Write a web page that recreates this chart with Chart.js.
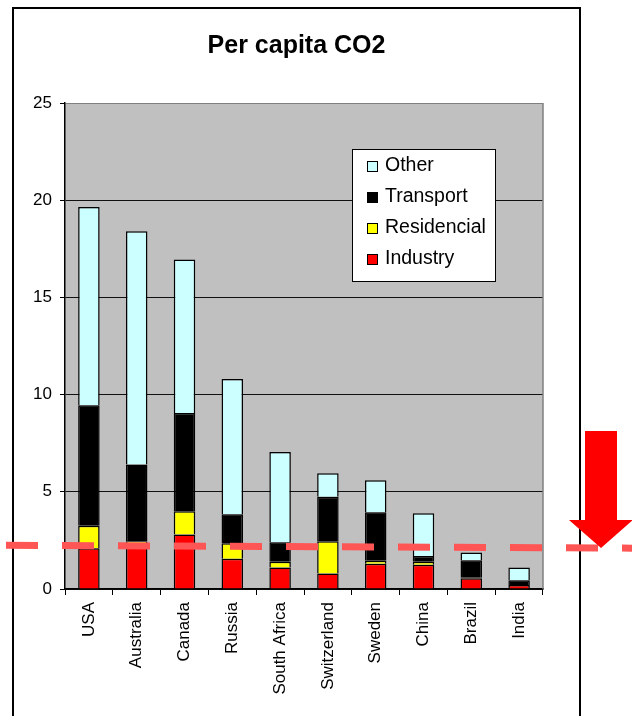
<!DOCTYPE html>
<html>
<head>
<meta charset="utf-8">
<script src="https://cdn.jsdelivr.net/npm/chart.js@4"></script>
<style>
  html, body { margin: 0; padding: 0; background: #fff; }
  #wrap { width: 632px; height: 716px; }
</style>
</head>
<body>
<div id="wrap"><canvas id="chart" width="632" height="716"></canvas></div>
<script>
// chart data
const countries = ["USA", "Australia", "Canada", "Russia", "South Africa", "Switzerland", "Sweden", "China", "Brazil", "India"];
const industry    = [2.1, 2.35, 2.8, 1.55, 1.1, 0.8, 1.3, 1.25, 0.55, 0.2];
const residencial = [1.15, 0.1, 1.2, 0.8, 0.3, 1.65, 0.15, 0.15, 0.03, 0];
const transport   = [6.2, 3.95, 5.05, 1.5, 1.0, 2.3, 2.5, 0.3, 0.9, 0.25];
const other       = [10.2, 12.0, 7.9, 6.95, 4.65, 1.2, 1.65, 2.2, 0.4, 0.65];
const yTicks = [0, 5, 10, 15, 20, 25];
// the dashed reference line, value at its left and right ends
const thresholdLine = [2.25, 2.1];

const FONT = "'Liberation Sans', Arial, sans-serif";

const seriesColors = {
  "Industry": "#ff0000",
  "Residencial": "#ffff00",
  "Transport": "#000000",
  "Other": "#ccffff"
};

function makeSet(label, values) {
  return {
    label: label,
    data: values,
    backgroundColor: seriesColors[label],
    borderColor: "#000",
    borderWidth: 1.5,
    barPercentage: 0.9,
    categoryPercentage: 0.5
  };
}

const decorations = {
  id: "decorations",
  beforeDraw(chart) {
    const ctx = chart.ctx;
    const a = chart.chartArea;
    ctx.save();
    ctx.fillStyle = "#fff";
    ctx.fillRect(0, 0, chart.width, chart.height);
    // outer frame
    ctx.strokeStyle = "#000";
    ctx.lineWidth = 2;
    ctx.strokeRect(13, 8, 567, 730);
    // plot background
    ctx.fillStyle = "#c0c0c0";
    ctx.fillRect(a.left, a.top, a.right - a.left, a.bottom - a.top);
    ctx.restore();
  },
  afterDraw(chart) {
    const ctx = chart.ctx;
    const a = chart.chartArea;
    const y = chart.scales.y;
    ctx.save();
    // right border of plot
    ctx.strokeStyle = "#808080";
    ctx.lineWidth = 1.5;
    ctx.beginPath();
    ctx.moveTo(a.right, a.top);
    ctx.lineTo(a.right, a.bottom);
    ctx.stroke();

    // legend box
    ctx.fillStyle = "#fff";
    ctx.fillRect(352, 149, 143, 132);
    ctx.strokeStyle = "#000";
    ctx.lineWidth = 1;
    ctx.strokeRect(352.5, 149.5, 143, 132);
    const sets = chart.data.datasets.slice().reverse();
    ctx.font = "19.5px " + FONT;
    ctx.textBaseline = "middle";
    sets.forEach((ds, i) => {
      const cy = 166 + i * 31;
      ctx.fillStyle = ds.backgroundColor;
      ctx.fillRect(367, cy - 5, 10, 10);
      ctx.strokeStyle = "#000";
      ctx.strokeRect(367.5, cy - 4.5, 10, 10);
      ctx.fillStyle = "#000";
      ctx.fillText(ds.label, 385, cy);
    });

    // dashed reference line
    const y0 = y.getPixelForValue(thresholdLine[0]);
    const y1 = y.getPixelForValue(thresholdLine[1]);
    ctx.strokeStyle = "#ff5555";
    ctx.lineWidth = 7;
    ctx.setLineDash([32, 24]);
    ctx.beginPath();
    ctx.moveTo(6, y0);
    ctx.lineTo(640, y1);
    ctx.stroke();
    ctx.setLineDash([]);

    // big arrow pointing at the line
    const tipY = y0 + (y1 - y0) * (600 - 6) / (640 - 6);
    ctx.fillStyle = "#ff0000";
    ctx.beginPath();
    ctx.moveTo(585, 431);
    ctx.lineTo(617, 431);
    ctx.lineTo(617, tipY - 28);
    ctx.lineTo(633, tipY - 28);
    ctx.lineTo(601, tipY);
    ctx.lineTo(569, tipY - 28);
    ctx.lineTo(585, tipY - 28);
    ctx.closePath();
    ctx.fill();
    ctx.restore();
  }
};

new Chart(document.getElementById("chart"), {
  type: "bar",
  data: {
    labels: countries,
    datasets: [
      makeSet("Industry", industry),
      makeSet("Residencial", residencial),
      makeSet("Transport", transport),
      makeSet("Other", other)
    ]
  },
  options: {
    responsive: false,
    animation: false,
    events: [],
    layout: { padding: { left: 13, right: 52, top: 0, bottom: 0 } },
    plugins: {
      legend: { display: false },
      tooltip: { enabled: false },
      title: {
        display: true,
        text: "Per capita CO2",
        color: "#000",
        font: { family: FONT, size: 25, weight: "bold" },
        padding: { top: 31, bottom: 42 }
      }
    },
    scales: {
      x: {
        stacked: true,
        afterFit: s => { s.height = 127; },
        grid: {
          drawOnChartArea: false,
          drawTicks: true,
          tickLength: 6,
          color: "#000",
          offset: true
        },
        border: { color: "#000", width: 1.5 },
        ticks: {
          color: "#000",
          font: { family: FONT, size: 17 },
          minRotation: 90,
          maxRotation: 90,
          autoSkip: false,
          padding: 7
        }
      },
      y: {
        stacked: true,
        min: 0,
        max: 25,
        afterFit: s => { s.width = 52; },
        afterBuildTicks: s => { s.ticks = yTicks.map(v => ({ value: v })); },
        grid: {
          color: c => (c.tick && c.tick.value === 25 ? "#808080" : "#111"),
          tickColor: "#000",
          tickLength: 5,
          lineWidth: 1
        },
        border: { color: "#000", width: 1.5 },
        ticks: {
          color: "#000",
          font: { family: FONT, size: 17 },
          padding: 8
        }
      },
      y2: {
        position: "right",
        afterFit: s => { s.width = 37; },
        grid: { display: false },
        border: { display: false },
        ticks: { display: false }
      }
    }
  },
  plugins: [decorations]
});
</script>
</body>
</html>
